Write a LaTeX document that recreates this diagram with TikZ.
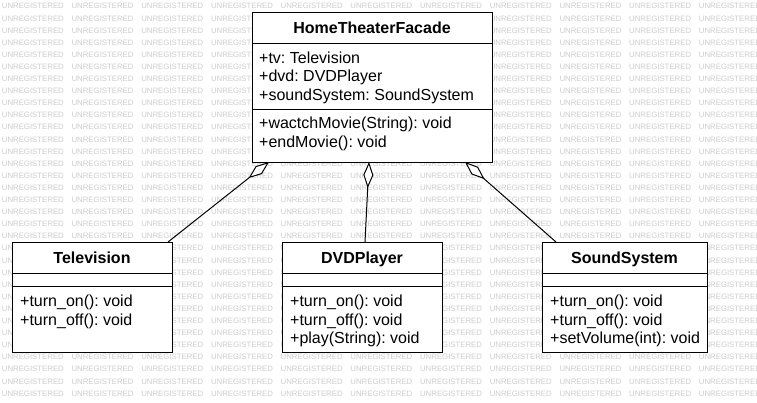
\documentclass[tikz,border=0pt]{standalone}
\usepackage{fontspec}
\setmainfont{Liberation Sans}
\usetikzlibrary{arrows.meta, calc}
\definecolor{umlwater}{RGB}{205,205,205}
\tikzset{
    umlbox/.style={draw=black, line width=1pt, fill=white, inner sep=0pt, outer sep=0pt, anchor=north west},
    umlsep/.style={draw=black, line width=1pt},
    classname/.style={font=\fontsize{16pt}{18.5pt}\selectfont\bfseries, anchor=base, inner sep=0pt},
    member/.style={font=\fontsize{16pt}{18.5pt}\selectfont\frenchspacing, anchor=base west, inner sep=0pt},
    wmark/.style={font=\fontsize{7.8pt}{9pt}\selectfont, text=umlwater, anchor=west, inner sep=0pt},
    aggr/.style={{Diamond[length=26pt, width=10pt, fill=white]}-, line width=1pt},
}

\begin{document}
\begin{tikzpicture}[x=1pt, y=-1pt]
    \useasboundingbox (0,0) rectangle (757,402);
    \fill[white] (0,0) rectangle (757,402);
    % watermark
    \foreach \r in {0,...,32}
        \foreach \c in {0,...,10}
            \node[wmark] (wm-\r-\c) at (1.7+69.7*\c, 6.3+12.1*\r) {UNREGISTERED};
    % facade class
    \node[umlbox, minimum width=240pt, minimum height=150pt] (htf) at (252,12) {};
    \node[classname] (htf-t) at ($(htf.north)+(0,21)$) {HomeTheaterFacade};
    \draw[umlsep] ($(htf.north west)+(0,31)$) -- ($(htf.north east)+(0,31)$);
    \draw[umlsep] ($(htf.north west)+(0,97)$) -- ($(htf.north east)+(0,97)$);
    \foreach \txt [count=\i from 0] in {+tv: Television, +dvd: DVDPlayer, +soundSystem: SoundSystem}
        \node[member] (htf-a\i) at ($(htf.north west)+(7,51.2+18.5*\i)$) {\txt};
    \foreach \txt [count=\i from 0] in {+wactchMovie(String): void, +endMovie(): void}
        \node[member] (htf-m\i) at ($(htf.north west)+(7,116.8+18.5*\i)$) {\txt};
    % subsystem classes
    \node[umlbox, minimum width=160pt, minimum height=110pt] (tv) at (12,242) {};
    \node[umlbox, minimum width=160pt, minimum height=110pt] (dvd) at (282,242) {};
    \node[umlbox, minimum width=165pt, minimum height=110pt] (ss) at (542,242) {};
    \node[classname] (tv-t) at ($(tv.north)+(0,21.5)$) {Television};
    \node[classname] (dvd-t) at ($(dvd.north)+(0,21.5)$) {DVDPlayer};
    \node[classname] (ss-t) at ($(ss.north)+(0,21.5)$) {SoundSystem};
    \foreach \cls in {tv,dvd,ss} {
        \draw[umlsep] ($(\cls.north west)+(0,31)$) -- ($(\cls.north east)+(0,31)$);
        \draw[umlsep] ($(\cls.north west)+(0,44)$) -- ($(\cls.north east)+(0,44)$);
    }
    \foreach \txt [count=\i from 0] in {+turn\_on(): void, +turn\_off(): void}
        \node[member] (tv-m\i) at ($(tv.north west)+(8,64.5+18.5*\i)$) {\txt};
    \foreach \txt [count=\i from 0] in {+turn\_on(): void, +turn\_off(): void, +play(String): void}
        \node[member] (dvd-m\i) at ($(dvd.north west)+(8,64.5+18.5*\i)$) {\txt};
    \foreach \txt [count=\i from 0] in {+turn\_on(): void, +turn\_off(): void, +setVolume(int): void}
        \node[member] (ss-m\i) at ($(ss.north west)+(8,64.5+18.5*\i)$) {\txt};
    % aggregations
    \draw[aggr] ([xshift=17pt]htf.south west) -- ([xshift=-4pt]tv.north east);
    \draw[aggr] ([xshift=-3pt]htf.south) -- ([xshift=3pt]dvd.north);
    \draw[aggr] ([xshift=-27pt]htf.south east) -- ([xshift=14pt]ss.north west);
\end{tikzpicture}
\end{document}
